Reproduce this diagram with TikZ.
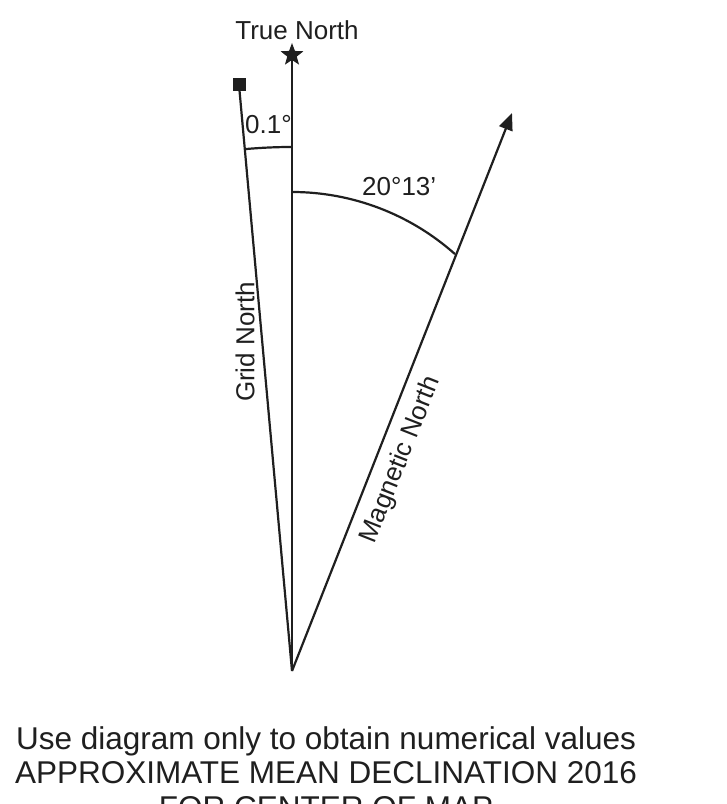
\documentclass[tikz,border=0pt]{standalone}
\usepackage{fontspec}
\setmainfont{Liberation Sans}
\usetikzlibrary{arrows.meta,shapes.geometric}
\tikzset{
  lbl/.style={inner sep=0pt, font=\fontsize{26bp}{30bp}\selectfont, text=black!88},
  note/.style={inner sep=0pt, anchor=base, font=\fontsize{31.5bp}{34bp}\selectfont, text=black!88},
  ln/.style={line width=2.2bp, draw=black!88},
}
\begin{document}
\begin{tikzpicture}[x=1bp,y=1bp]
\useasboundingbox (0,0) rectangle (727,804);
\clip (0,0) rectangle (727,804);
\coordinate (O) at (292,133);
\node[star, star points=5, star point ratio=2.4, fill=black!88, minimum size=24bp, inner sep=0pt] (star) at (292,749) {};
\node[fill=black!88, minimum size=13bp, inner sep=0pt] (sq) at (239,719) {};
\coordinate (mag) at (512,691);
\draw[ln] (O) -- (star.center);
\draw[ln] (O) -- (sq.center);
\draw[ln, -{Triangle[length=17bp,width=14bp]}] (O) -- (mag);
% arcs
\draw[ln] (O) ++(90:524bp) arc[start angle=90, end angle=95.17, radius=524bp];
\coordinate (c2) at (292,367);
\draw[ln] (c2) ++(90:245bp) arc[start angle=90, end angle=48.3, radius=245bp];
% labels
\node[lbl, anchor=base] (tn) at (297,764) {True North};
\node[lbl, anchor=base west] (d1) at (245,670) {0.1°};
\node[lbl, anchor=base west] (d2) at (362,608) {20°13’};
\node[lbl, rotate=90] (gn) at (245,462) {Grid North};
\node[lbl, rotate=68.5] (mn) at (401,344) {Magnetic North};
\node[note] (n1) at (326,54) {Use diagram only to obtain numerical values};
\node[note] (n2) at (326,20) {APPROXIMATE MEAN DECLINATION 2016};
\node[note] (n3) at (326,-14) {FOR CENTER OF MAP};
\end{tikzpicture}
\end{document}
